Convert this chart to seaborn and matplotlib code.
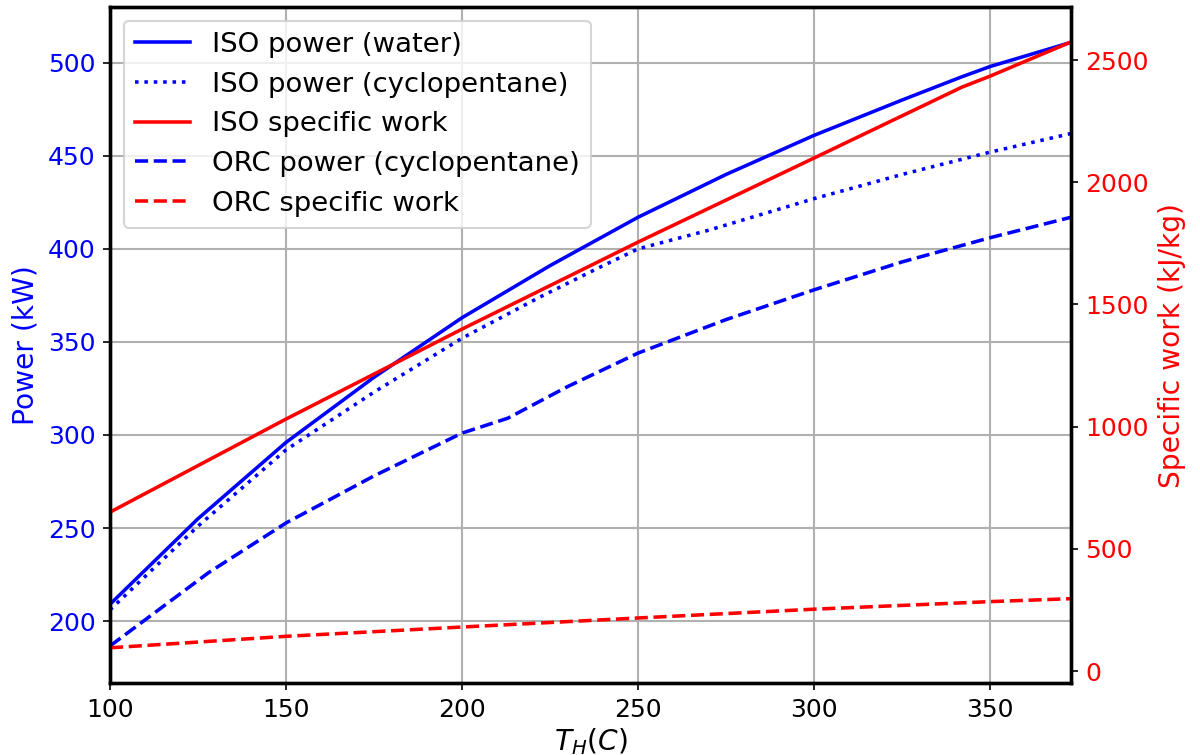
import matplotlib
matplotlib.use("Agg")
import matplotlib.pyplot as plt
import seaborn as sns
import pandas as pd

# ISO power (water), kW
iso_water_T = [100, 125, 150, 175, 200, 225, 250, 275, 300, 325, 342, 350, 373]
iso_water_P = [209, 255, 296, 331, 363, 391, 417, 440, 461, 480, 492.5, 498, 511]

# ISO power (cyclopentane), kW
iso_cp_T = [100, 125, 150, 175, 200, 222, 239, 250, 270, 300, 325, 350, 373]
iso_cp_P = [206, 251, 292, 323, 352, 374, 390, 400, 410, 427, 440, 452, 462]

# ISO specific work, kJ/kg
iso_w_T = [100, 150, 200, 250, 300, 342, 350, 373]
iso_w = [650, 1031, 1399, 1755, 2099, 2389, 2434, 2574]

# ORC power (cyclopentane), kW
orc_T = [100, 128, 150, 175, 200, 213, 230, 250, 275, 300, 325, 350, 373]
orc_P = [186.6, 226, 252.7, 278, 301, 309, 326, 344, 362, 378, 393, 406, 417]

# ORC specific work, kJ/kg
orc_w_T = [100, 150, 200, 250, 300, 350, 373]
orc_w = [95, 142, 180, 217, 253, 284, 296]

x_ticks = [100, 150, 200, 250, 300, 350]
left_ticks = [200, 250, 300, 350, 400, 450, 500]
right_ticks = [0, 500, 1000, 1500, 2000, 2500]

plt.rcParams['font.family'] = ['DejaVu Sans']

fig, ax1 = plt.subplots(figsize=(8, 755 / 150), dpi=150)
fig.subplots_adjust(left=110 / 1200, right=1071 / 1200, bottom=1 - 683 / 755, top=1 - 7 / 755)
ax2 = ax1.twinx()

lw = 1.7
sns.lineplot(data=pd.DataFrame({"T": iso_water_T, "P": iso_water_P}), x="T", y="P", ax=ax1,
             color="blue", linestyle="-", lw=lw, label="ISO power (water)")
sns.lineplot(data=pd.DataFrame({"T": iso_cp_T, "P": iso_cp_P}), x="T", y="P", ax=ax1,
             color="blue", linestyle=":", lw=lw, label="ISO power (cyclopentane)")
sns.lineplot(data=pd.DataFrame({"T": orc_T, "P": orc_P}), x="T", y="P", ax=ax1,
             color="blue", linestyle="--", lw=lw, label="ORC power (cyclopentane)")
sns.lineplot(data=pd.DataFrame({"T": iso_w_T, "W": iso_w}), x="T", y="W", ax=ax2,
             color="red", linestyle="-", lw=lw, label="ISO specific work")
sns.lineplot(data=pd.DataFrame({"T": orc_w_T, "W": orc_w}), x="T", y="W", ax=ax2,
             color="red", linestyle="--", lw=lw, label="ORC specific work")

for a in (ax1, ax2):
    lg = a.get_legend()
    if lg is not None:
        lg.remove()

ax1.set_xlim(100, 373)
ax1.set_ylim(166.7, 530)
ax2.set_ylim(-49, 2717)
ax1.set_xticks(x_ticks)
ax1.set_yticks(left_ticks)
ax2.set_yticks(right_ticks)

ax1.grid(True, color="#b0b0b0", lw=1.0)
ax1.set_axisbelow(True)

ax1.set_xlabel("$T_H(C)$", fontsize=13.5, labelpad=2)
ax1.set_ylabel("Power (kW)", color="blue", fontsize=13.5)
ax2.set_ylabel("Specific work (kJ/kg)", color="red", fontsize=13.5)
ax1.tick_params(axis="x", labelsize=12)
ax1.tick_params(axis="y", labelsize=12, labelcolor="blue")
ax2.tick_params(axis="y", labelsize=12, labelcolor="red")

for a in (ax1, ax2):
    for s in a.spines.values():
        s.set_linewidth(1.6)

h1, l1 = ax1.get_legend_handles_labels()
h2, l2 = ax2.get_legend_handles_labels()
hmap = dict(zip(l1 + l2, h1 + h2))
order = ["ISO power (water)", "ISO power (cyclopentane)", "ISO specific work",
         "ORC power (cyclopentane)", "ORC specific work"]
ax2.legend([hmap[k] for k in order], order, loc="upper left", fontsize=13.2)

fig.savefig("out.png", dpi=150)
